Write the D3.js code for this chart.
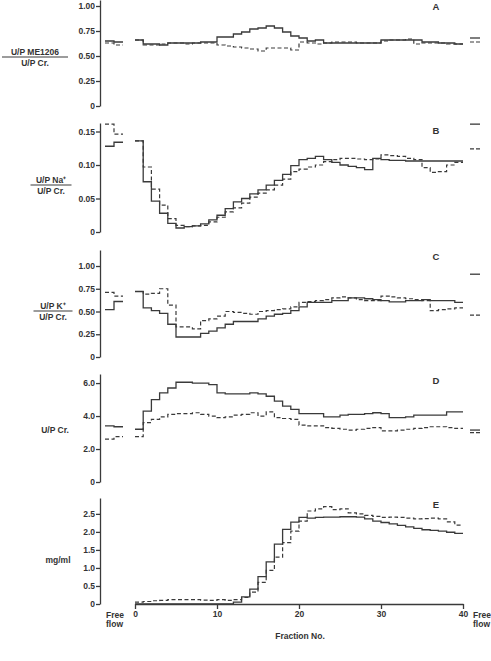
<!DOCTYPE html>
<meta charset="utf-8">
<style>
  body { margin: 0; background: #fff; }
  text { font-family: "Liberation Sans", Arial, sans-serif; font-weight: bold; fill: #333; }
</style>
<svg id="chart" width="491" height="661"></svg>
<script src="https://d3js.org/d3.v7.min.js"></script>
<script>

// fraction numbers 0..39 (each step spans fraction i to i+1)
var fractions = d3.range(40);

// A: U/P ME1206 / U/P Cr.
var aSolid = [0.66,0.62,0.62,0.61,0.63,0.63,0.63,0.63,0.64,0.64,0.69,0.69,0.72,0.74,0.77,0.78,0.80,0.78,0.74,0.70,0.68,0.65,0.66,0.63,0.63,0.63,0.63,0.63,0.63,0.63,0.66,0.66,0.66,0.66,0.66,0.64,0.64,0.63,0.63,0.62];
var aDashed = [0.66,0.61,0.61,0.62,0.63,0.63,0.62,0.63,0.63,0.63,0.61,0.60,0.59,0.58,0.57,0.55,0.58,0.58,0.58,0.56,0.64,0.63,0.62,0.63,0.64,0.64,0.64,0.63,0.63,0.63,0.65,0.66,0.66,0.67,0.62,0.63,0.63,0.63,0.62,0.62];
var aFreeLeftSolid = [0.65, 0.64], aFreeLeftDashed = [0.63, 0.61];
var aFreeRightSolid = 0.68, aFreeRightDashed = 0.64;

// B: U/P Na+ / U/P Cr.
var bSolid = [0.136,0.075,0.046,0.028,0.013,0.006,0.008,0.009,0.012,0.018,0.025,0.035,0.045,0.050,0.057,0.063,0.070,0.077,0.086,0.099,0.108,0.110,0.113,0.108,0.104,0.100,0.098,0.096,0.093,0.110,0.108,0.107,0.107,0.106,0.106,0.106,0.106,0.106,0.106,0.106];
var bDashed = [0.136,0.097,0.064,0.040,0.020,0.010,0.008,0.009,0.010,0.015,0.022,0.030,0.036,0.043,0.052,0.058,0.063,0.070,0.079,0.090,0.094,0.097,0.100,0.105,0.108,0.110,0.110,0.109,0.108,0.109,0.115,0.114,0.113,0.110,0.108,0.096,0.089,0.090,0.100,0.104];
var bFreeLeftSolid = [0.128, 0.134], bFreeLeftDashed = [0.161, 0.146];
var bFreeRightSolid = 0.161, bFreeRightDashed = 0.124;

// C: U/P K+ / U/P Cr.
var cSolid = [0.72,0.54,0.51,0.48,0.36,0.22,0.22,0.22,0.26,0.285,0.32,0.36,0.39,0.39,0.39,0.42,0.45,0.47,0.48,0.51,0.55,0.60,0.60,0.60,0.62,0.62,0.65,0.65,0.64,0.63,0.62,0.605,0.605,0.62,0.62,0.63,0.62,0.62,0.62,0.60];
var cDashed = [0.72,0.69,0.70,0.75,0.57,0.33,0.33,0.31,0.40,0.42,0.45,0.50,0.49,0.48,0.47,0.50,0.51,0.52,0.53,0.55,0.60,0.61,0.62,0.63,0.65,0.66,0.65,0.63,0.62,0.62,0.67,0.66,0.65,0.64,0.63,0.62,0.51,0.52,0.53,0.54];
var cFreeLeftSolid = [0.52, 0.61], cFreeLeftDashed = [0.71, 0.67];
var cFreeRightSolid = 0.91, cFreeRightDashed = 0.46;

// D: U/P Cr.
var dSolid = [3.2,4.3,5.0,5.4,5.7,6.05,6.05,6.0,6.0,5.9,5.4,5.35,5.35,5.35,5.4,5.35,5.2,4.9,4.6,4.4,4.15,4.15,4.15,3.95,3.95,4.05,4.1,4.1,4.15,4.2,4.15,3.9,3.9,3.95,4.05,4.05,4.05,4.05,4.25,4.25];
var dDashed = [2.75,3.6,3.8,3.95,4.1,4.15,4.15,4.2,4.1,4.0,3.9,3.95,4.05,4.1,4.2,4.0,4.25,3.9,3.85,3.8,3.45,3.4,3.4,3.3,3.25,3.2,3.15,3.2,3.25,3.3,3.1,3.1,3.15,3.2,3.25,3.3,3.35,3.35,3.3,3.25];
var dFreeLeftSolid = [3.4, 3.35], dFreeLeftDashed = [2.6, 2.75];
var dFreeRightSolid = 3.15, dFreeRightDashed = 3.0;

// E: mg/ml
var eSolid = [0,0,0,0,0,0,0,0,0,0,0,0,0.05,0.2,0.41,0.76,1.17,1.66,2.07,2.27,2.40,2.38,2.40,2.41,2.41,2.42,2.42,2.41,2.36,2.30,2.26,2.22,2.18,2.14,2.10,2.06,2.04,2.02,1.99,1.96];
var eDashed = [0.05,0.07,0.09,0.10,0.12,0.12,0.12,0.12,0.11,0.10,0.12,0.10,0.12,0.18,0.33,0.60,0.93,1.30,1.70,2.02,2.30,2.58,2.64,2.70,2.62,2.64,2.53,2.50,2.46,2.43,2.40,2.41,2.40,2.38,2.36,2.37,2.38,2.36,2.28,2.19];

var panels = [
  {letter: "A", top: 0, base: 106, max: 1.06, ticks: [0, 0.25, 0.5, 0.75, 1.0], fmt: ".2f", solid: aSolid, dashed: aDashed,
   ffls: aFreeLeftSolid, ffld: aFreeLeftDashed, ffrs: aFreeRightSolid, ffrd: aFreeRightDashed,
   label: ["U/P ME1206", "U/P Cr."], lx: 35, ly: 57, lw: 66, letterY: 10},
  {letter: "B", top: 123, base: 232, max: 0.1627, ticks: [0, 0.05, 0.10, 0.15], fmt: ".2f", solid: bSolid, dashed: bDashed,
   ffls: bFreeLeftSolid, ffld: bFreeLeftDashed, ffrs: bFreeRightSolid, ffrd: bFreeRightDashed,
   label: ["U/P Na\u207A", "U/P Cr."], lx: 51, ly: 185, lw: 41, letterY: 134},
  {letter: "C", top: 250, base: 357, max: 1.176, ticks: [0, 0.25, 0.5, 0.75, 1.0], fmt: ".2f", solid: cSolid, dashed: cDashed,
   ffls: cFreeLeftSolid, ffld: cFreeLeftDashed, ffrs: cFreeRightSolid, ffrd: cFreeRightDashed,
   label: ["U/P K\u207A", "U/P Cr."], lx: 53, ly: 311, lw: 39, letterY: 260},
  {letter: "D", top: 374, base: 482, max: 6.55, ticks: [0, 2, 4, 6], fmt: ".1f", solid: dSolid, dashed: dDashed,
   ffls: dFreeLeftSolid, ffld: dFreeLeftDashed, ffrs: dFreeRightSolid, ffrd: dFreeRightDashed,
   label: ["U/P Cr."], lx: 55, ly: 430, letterY: 384},
  {letter: "E", top: 498, base: 604, max: 2.94, ticks: [0, 0.5, 1.0, 1.5, 2.0, 2.5], fmt: ".1f", solid: eSolid, dashed: eDashed,
   ffls: null, label: ["mg/ml"], lx: 58, ly: 560, letterY: 508}
];

var svg = d3.select("#chart"),
    ink = "#3a3a3a";

var x = d3.scaleLinear().domain([0, 40]).range([135, 463]);
var ffLeft = d3.scaleLinear().domain([0, 2]).range([105, 123]);
var ffRight = d3.scaleLinear().domain([0, 1]).range([470, 480]);

function steps(vals) {
  var pts = vals.map(function(v, i) { return [i, v]; });
  pts.push([vals.length, vals[vals.length - 1]]);
  return pts;
}

panels.forEach(function(p) {
  var y = d3.scaleLinear().domain([0, p.max]).range([p.base, p.top]);
  var g = svg.append("g");

  var yAxis = d3.axisLeft(y)
      .tickValues(p.ticks)
      .tickSize(4)
      .tickSizeOuter(0)
      .tickPadding(1)
      .tickFormat(function(d) { return d === 0 ? "0" : d3.format(p.fmt)(d); });

  var ax = g.append("g")
      .attr("transform", "translate(100,0)")
      .call(yAxis);
  ax.selectAll("path, line").attr("stroke", ink).attr("stroke-width", 1.3);
  ax.selectAll("text").attr("font-size", 8.5).attr("font-family", "Liberation Sans, Arial, sans-serif")
      .attr("font-weight", "bold").attr("fill", "#333");

  var line = d3.line()
      .x(function(d) { return x(d[0]); })
      .y(function(d) { return y(d[1]); })
      .curve(d3.curveStepAfter);

  g.append("path")
      .datum(steps(p.dashed))
      .attr("fill", "none")
      .attr("stroke", ink)
      .attr("stroke-width", 1.2)
      .attr("stroke-dasharray", "4,2.5")
      .attr("d", line);

  g.append("path")
      .datum(steps(p.solid))
      .attr("fill", "none")
      .attr("stroke", ink)
      .attr("stroke-width", 1.3)
      .attr("d", line);

  if (p.ffls) {
    var ffLine = d3.line()
        .x(function(d) { return ffLeft(d[0]); })
        .y(function(d) { return y(d[1]); })
        .curve(d3.curveStepAfter);
    g.append("path").datum(steps(p.ffls))
        .attr("fill", "none").attr("stroke", ink).attr("stroke-width", 1.3).attr("d", ffLine);
    g.append("path").datum(steps(p.ffld))
        .attr("fill", "none").attr("stroke", ink).attr("stroke-width", 1.2)
        .attr("stroke-dasharray", "4,2.5").attr("d", ffLine);

    g.append("line")
        .attr("x1", ffRight(0)).attr("x2", ffRight(1))
        .attr("y1", y(p.ffrs)).attr("y2", y(p.ffrs))
        .attr("stroke", ink).attr("stroke-width", 1.3);
    g.append("line")
        .attr("x1", ffRight(0)).attr("x2", ffRight(1))
        .attr("y1", y(p.ffrd)).attr("y2", y(p.ffrd))
        .attr("stroke", ink).attr("stroke-width", 1.2)
        .attr("stroke-dasharray", "4,2");
  }

  // panel letter
  g.append("text")
      .attr("x", 436).attr("y", p.letterY)
      .attr("text-anchor", "middle")
      .attr("font-size", 9.5)
      .text(p.letter);

  // y label
  if (p.label.length === 2) {
    g.append("text").attr("x", p.lx).attr("y", p.ly - 2.5)
        .attr("text-anchor", "middle").attr("font-size", 8.5).text(p.label[0]);
    g.append("line")
        .attr("x1", p.lx - p.lw / 2).attr("x2", p.lx + p.lw / 2)
        .attr("y1", p.ly).attr("y2", p.ly)
        .attr("stroke", ink).attr("stroke-width", 1.1);
    g.append("text").attr("x", p.lx).attr("y", p.ly + 9)
        .attr("text-anchor", "middle").attr("font-size", 8.5).text(p.label[1]);
  } else {
    g.append("text").attr("x", p.lx).attr("y", p.ly + 3)
        .attr("text-anchor", "middle").attr("font-size", 8.5).text(p.label[0]);
  }
});

// x axis at the bottom panel
var xAxis = d3.axisBottom(x)
    .tickValues([0, 10, 20, 30, 40])
    .tickSize(5)
    .tickSizeOuter(0)
    .tickPadding(2);

var xg = svg.append("g")
    .attr("transform", "translate(0,604)")
    .call(xAxis);
xg.selectAll("path, line").attr("stroke", ink).attr("stroke-width", 1.3);
xg.selectAll("text").attr("font-size", 8.5).attr("font-family", "Liberation Sans, Arial, sans-serif")
    .attr("font-weight", "bold").attr("fill", "#333");

[[106, "start"], [473, "start"]].forEach(function(d) {
  svg.append("text").attr("x", d[0]).attr("y", 618).attr("text-anchor", d[1])
      .attr("font-size", 8.5).text("Free");
  svg.append("text").attr("x", d[0]).attr("y", 627).attr("text-anchor", d[1])
      .attr("font-size", 8.5).text("flow");
});

svg.append("text")
    .attr("x", 300).attr("y", 639)
    .attr("text-anchor", "middle")
    .attr("font-size", 8.5)
    .text("Fraction No.");

</script>
